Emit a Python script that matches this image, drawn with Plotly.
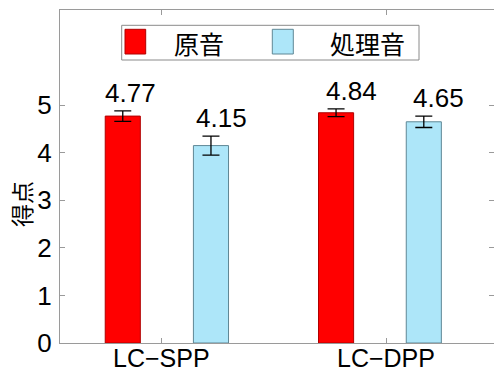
import plotly.graph_objects as go

# Mean scores with standard errors for each method
categories = ["LC\u2212SPP", "LC\u2212DPP"]
series_names = ["原音", "処理音"]
original_scores = [4.77, 4.84]
original_err = [0.11, 0.08]
processed_scores = [4.15, 4.65]
processed_err = [0.20, 0.12]
y_ticks = [0, 1, 2, 3, 4, 5]

RED = "#ff0000"
CYAN = "#ade6f9"
FONT = "Liberation Sans, Arial, sans-serif"
CJK = "Noto Sans CJK JP, sans-serif"

W, H = 494, 373
ML, MR, MT, MB = 60, 0, 10, 30
PW, PH = W - ML - MR, H - MT - MB

def px(x):
    return (x - ML) / PW

def py(y):
    return (H - MB - y) / PH

bar_w = 0.156
red_off = [-0.17, -0.222]
cyan_off = [0.222, 0.168]

fig = go.Figure()
for vals, errs, offs, color, edge in [
    (original_scores, original_err, red_off, RED, "#b00000"),
    (processed_scores, processed_err, cyan_off, CYAN, "#5f8795"),
]:
    fig.add_trace(go.Bar(
        x=categories, y=vals, width=bar_w,
        offset=[o - bar_w / 2 for o in offs],
        marker=dict(color=color, line=dict(color=edge, width=1)),
        error_y=dict(type="data", array=errs, visible=True,
                     color="black", thickness=1.3, width=8.5),
        showlegend=False,
    ))

# value labels above each error bar
shifts_red = [8, 15]
shifts_cyan = [11, 15]
for i, cat in enumerate(categories):
    for vals, errs, offs, sh in [
        (original_scores, original_err, red_off, shifts_red),
        (processed_scores, processed_err, cyan_off, shifts_cyan),
    ]:
        fig.add_annotation(
            x=i + offs[i], y=vals[i] + errs[i], xref="x", yref="y",
            text=f"{vals[i]:.2f}", showarrow=False,
            xanchor="center", yanchor="bottom", xshift=sh[i], yshift=1,
            font=dict(family=FONT, size=26, color="black"),
        )

# category labels under the axis
for cat in categories:
    fig.add_annotation(x=cat, y=py(358.5), xref="x", yref="paper",
                       text=cat, showarrow=False, xanchor="center",
                       yanchor="middle", borderpad=0,
                       font=dict(family=FONT, size=25, color="black"))

# legend box drawn by hand
fig.add_shape(type="rect", xref="paper", yref="paper",
              x0=px(121.7), x1=px(419), y0=py(60), y1=py(25.3),
              line=dict(color="#8a8a8a", width=1), fillcolor="white")
for x0, x1, color, edge, tx, name in [
    (125, 145.7, RED, "#b00000", 171.7, series_names[0]),
    (272.3, 293.3, CYAN, "#5f8795", 328, series_names[1]),
]:
    fig.add_shape(type="rect", xref="paper", yref="paper",
                  x0=px(x0), x1=px(x1), y0=py(54), y1=py(29.3),
                  line=dict(color=edge, width=1), fillcolor=color)
    fig.add_annotation(x=px(tx), y=py(42.7), xref="paper", yref="paper",
                       text=name, showarrow=False, xanchor="left",
                       yanchor="middle",
                       font=dict(family=CJK, size=25, color="black"))

# y-axis title
fig.add_annotation(x=px(21), y=py(204), xref="paper", yref="paper",
                   text="得点", textangle=-90, showarrow=False,
                   xanchor="center", yanchor="middle",
                   font=dict(family=CJK, size=23, color="black"))

axis_common = dict(showline=True, linecolor="#9a9a9a", linewidth=1,
                   mirror="allticks", ticks="inside", ticklen=5,
                   tickcolor="#9a9a9a", showgrid=False, zeroline=False,
                   automargin=False,
                   tickfont=dict(family=FONT, size=26, color="black"))

fig.update_layout(
    width=W, height=H,
    margin=dict(l=ML, r=MR, t=MT, b=MB),
    paper_bgcolor="white", plot_bgcolor="white",
    barmode="overlay",
    xaxis=dict(range=[-0.449, 1.48], type="category", showticklabels=False,
               **axis_common),
    yaxis=dict(range=[0, 7], tickvals=y_ticks, ticklabelstandoff=2,
               **axis_common),
)

fig.write_html("out.html")
